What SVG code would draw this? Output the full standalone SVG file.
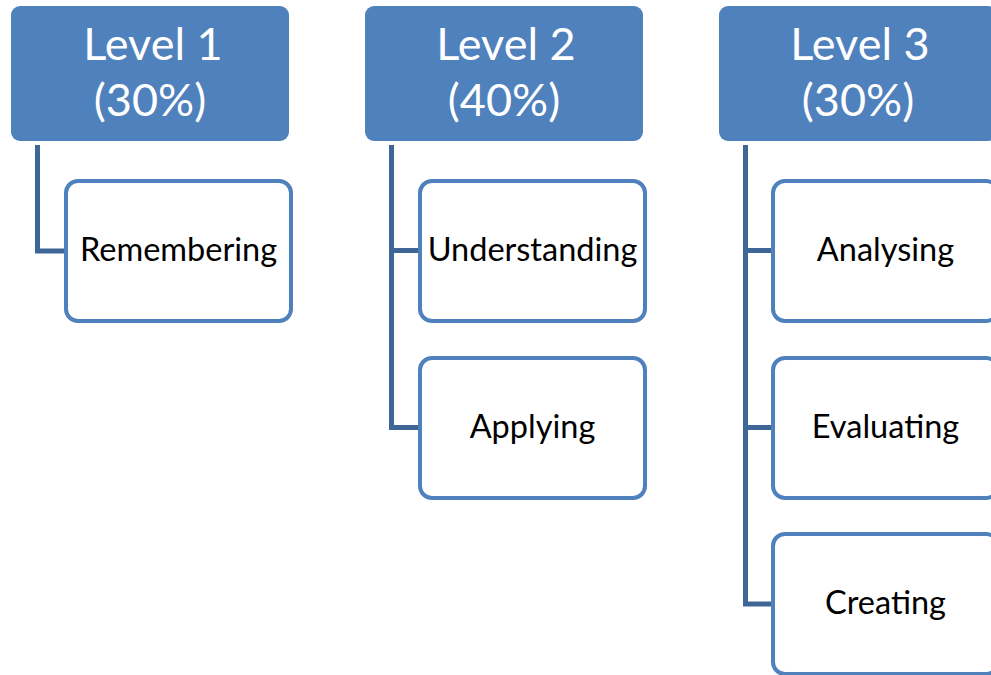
<svg xmlns="http://www.w3.org/2000/svg" width="991" height="675" viewBox="0 0 991 675">
<style>
.hdr{fill:#4F81BD}
.hdr-t{fill:#fff;font-family:Lato,"Liberation Sans",sans-serif;font-size:45px;text-anchor:middle}
.box{fill:#fff;stroke:#4F81BD;stroke-width:4}
.box-t{fill:#000;font-family:Lato,"Liberation Sans",sans-serif;font-size:32.5px;text-anchor:middle}
.conn{fill:none;stroke:#3E6798;stroke-width:5}
</style>
<rect width="991" height="675" fill="#fff"/>
<g id="connectors">
<path class="conn" d="M37.5 145 V251 H64"/>
<path class="conn" d="M391.5 145 V427.5 H418 M391.5 250.5 H418"/>
<path class="conn" d="M745.5 145 V604 H771 M745.5 250.5 H771 M745.5 427.5 H771"/>
</g>
<g id="level1">
<rect class="hdr" x="11" y="6" width="278" height="135" rx="9"/>
<text class="hdr-t" x="153" y="60">Level 1</text>
<text class="hdr-t" x="150" y="116">(30%)</text>
</g>
<g id="level2">
<rect class="hdr" x="365" y="6" width="278" height="135" rx="9"/>
<text class="hdr-t" x="506" y="60">Level 2</text>
<text class="hdr-t" x="504" y="116">(40%)</text>
</g>
<g id="level3">
<rect class="hdr" x="719" y="6" width="278" height="135" rx="9"/>
<text class="hdr-t" x="860" y="60">Level 3</text>
<text class="hdr-t" x="858" y="116">(30%)</text>
</g>
<g id="remembering">
<rect class="box" x="66" y="181" width="225" height="140" rx="12"/>
<text class="box-t" x="178.5" y="261">Remembering</text>
</g>
<g id="understanding">
<rect class="box" x="420" y="181" width="225" height="140" rx="12"/>
<text class="box-t" x="532.5" y="261">Understanding</text>
</g>
<g id="applying">
<rect class="box" x="420" y="358" width="225" height="140" rx="12"/>
<text class="box-t" x="532.5" y="438">Applying</text>
</g>
<g id="analysing">
<rect class="box" x="773" y="181" width="225" height="140" rx="12"/>
<text class="box-t" x="885.5" y="261">Analysing</text>
</g>
<g id="evaluating">
<rect class="box" x="773" y="358" width="225" height="140" rx="12"/>
<text class="box-t" x="885.5" y="438">Evaluating</text>
</g>
<g id="creating">
<rect class="box" x="773" y="534" width="225" height="140" rx="12"/>
<text class="box-t" x="885.5" y="614">Creating</text>
</g>
</svg>
